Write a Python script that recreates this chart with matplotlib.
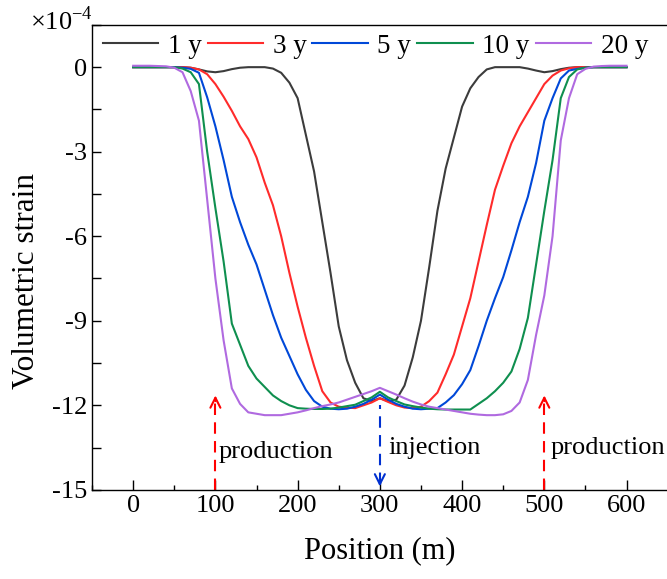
import numpy as np
import matplotlib
matplotlib.use("Agg")
import matplotlib.pyplot as plt
from matplotlib.ticker import MultipleLocator

plt.rcParams['font.family'] = ['Liberation Serif', 'DejaVu Serif']
plt.rcParams['mathtext.fontset'] = 'custom'
plt.rcParams['mathtext.rm'] = 'Liberation Serif'
plt.rcParams['axes.unicode_minus'] = False

# position along the profile (m)
position = np.arange(0, 601, 10)

# volumetric strain, x1e-4
strain_1y = [0, 0, 0, 0, 0, 0, 0, -0.02, -0.08, -0.15,
             -0.18, -0.14, -0.07, -0.02, 0, 0, 0, -0.05, -0.2, -0.55,
             -1.1, -2.4, -3.7, -5.5, -7.3, -9.2, -10.4, -11.2, -11.75, -11.85,
             -11.75, -11.85, -11.8, -11.3, -10.3, -9.0, -7.1, -5.1, -3.6, -2.5,
             -1.4, -0.75, -0.35, -0.08, 0, 0, 0, 0, -0.05, -0.12,
             -0.18, -0.14, -0.07, -0.02, 0, 0, 0, 0, 0, 0, 0]
strain_3y = [0, 0, 0, 0, 0, 0, 0, -0.02, -0.08, -0.25,
             -0.6, -1.05, -1.55, -2.1, -2.55, -3.2, -4.1, -4.9, -6.0, -7.3,
             -8.5, -9.6, -10.6, -11.5, -11.9, -12.05, -12.08, -12.1, -12.0, -11.9,
             -11.75, -11.88, -12.0, -12.08, -12.1, -12.05, -11.85, -11.55, -10.9, -10.2,
             -9.2, -8.2, -6.9, -5.6, -4.35, -3.5, -2.7, -2.1, -1.6, -1.1,
             -0.6, -0.3, -0.12, -0.04, 0, 0, 0, 0, 0, 0, 0]
strain_5y = [0, 0, 0, 0, 0, 0, -0.02, -0.06, -0.2, -1.07,
             -2.1, -3.3, -4.6, -5.5, -6.3, -7.0, -7.9, -8.8, -9.6, -10.25,
             -10.9, -11.45, -11.85, -12.05, -12.12, -12.14, -12.12, -12.05, -11.95, -11.8,
             -11.62, -11.8, -11.95, -12.05, -12.12, -12.14, -12.12, -12.1, -11.9, -11.64,
             -11.25, -10.75, -9.9, -9.0, -8.2, -7.45, -6.5, -5.5, -4.6, -3.4,
             -1.9, -1.1, -0.4, -0.12, -0.06, -0.02, 0, 0, 0, 0, 0]
strain_10y = [0, 0, 0, 0, 0, 0, -0.05, -0.18, -0.6, -3.0,
              -5.0, -6.9, -9.1, -9.85, -10.6, -11.05, -11.35, -11.65, -11.85, -12.0,
              -12.1, -12.12, -12.13, -12.13, -12.12, -12.08, -12.03, -11.98, -11.85, -11.72,
              -11.52, -11.72, -11.85, -11.97, -12.03, -12.08, -12.12, -12.14, -12.15, -12.15,
              -12.15, -12.15, -11.95, -11.75, -11.5, -11.2, -10.8, -10.0, -8.9, -7.0,
              -5.1, -3.3, -1.1, -0.35, -0.08, -0.02, 0, 0, 0, 0, 0]
strain_20y = [0.05, 0.05, 0.05, 0.04, 0.03, -0.02, -0.18, -0.85, -1.9, -4.7,
              -7.5, -9.7, -11.4, -11.95, -12.25, -12.3, -12.35, -12.35, -12.35, -12.3,
              -12.25, -12.18, -12.1, -12.03, -11.97, -11.9, -11.8, -11.7, -11.6, -11.5,
              -11.38, -11.5, -11.62, -11.75, -11.87, -11.97, -12.05, -12.1, -12.15, -12.2,
              -12.25, -12.3, -12.33, -12.35, -12.35, -12.32, -12.2, -11.9, -11.1, -9.5,
              -8.1, -6.0, -2.6, -1.1, -0.25, -0.06, 0.02, 0.04, 0.05, 0.05, 0.05]

labels = ['1 y', '3 y', '5 y', '10 y', '20 y']
colors = ['#3c3c3c', '#ff2b2b', '#0048d8', '#0f8f4f', '#b06ae0']
series = [strain_1y, strain_3y, strain_5y, strain_10y, strain_20y]

fig = plt.figure(figsize=(6.67, 5.79), dpi=100)
ax = fig.add_axes([0.138, 0.154, 0.863, 0.803])

for y, lab, c in zip(series, labels, colors):
    ax.plot(position, y, color=c, lw=1.5, label=lab)

# well markers
ax.vlines([100, 500], -15, -11.7, colors='red', lw=1.5, linestyles=(0, (5.5, 3.5)))
for xw in [100, 500]:
    ax.annotate('', xy=(xw, -11.55), xytext=(xw, -11.95),
                arrowprops=dict(arrowstyle='->', color='red', lw=1.5, mutation_scale=18))
ax.vlines(300, -14.8, -12.0, colors='#0030d0', lw=1.5, linestyles=(0, (5.5, 3.5)))
ax.annotate('', xy=(300, -14.98), xytext=(300, -14.55),
            arrowprops=dict(arrowstyle='->', color='#0030d0', lw=1.5, mutation_scale=18))

ax.text(104, -13.65, 'production', fontsize=19, va='center', ha='left')
ax.text(310, -13.5, 'injection', fontsize=19, va='center', ha='left')
ax.text(508, -13.52, 'production', fontsize=19, va='center', ha='left')

ax.set_xlim(-50, 650)
ax.set_ylim(-15, 1.5)
ax.xaxis.set_major_locator(MultipleLocator(100))
ax.xaxis.set_minor_locator(MultipleLocator(50))
ax.yaxis.set_major_locator(MultipleLocator(3))
ax.yaxis.set_minor_locator(MultipleLocator(1.5))
ax.tick_params(which='both', direction='in', labelsize=19, width=1.0)
ax.tick_params(axis='x', which='major', length=7)
ax.tick_params(axis='x', which='minor', length=3.5)
ax.tick_params(axis='y', which='both', length=6.5)
for s in ax.spines.values():
    s.set_linewidth(1.0)

ax.set_xlabel('Position (m)', fontsize=22, labelpad=14)
ax.set_ylabel('Volumetric strain', fontsize=22.5)
ax.yaxis.set_label_coords(-0.088, 0.45)
fig.text(0.045, 0.965, r'$\times$10$^{\mathregular{-4}}$', fontsize=19, va='center', ha='left')

ax.legend(ncol=5, frameon=False, loc='upper left', bbox_to_anchor=(-0.005, 1.01),
          fontsize=19.5, handlelength=2.05, handletextpad=0.35, columnspacing=0.22,
          borderaxespad=0.1)

fig.savefig('out.png', dpi=100)
